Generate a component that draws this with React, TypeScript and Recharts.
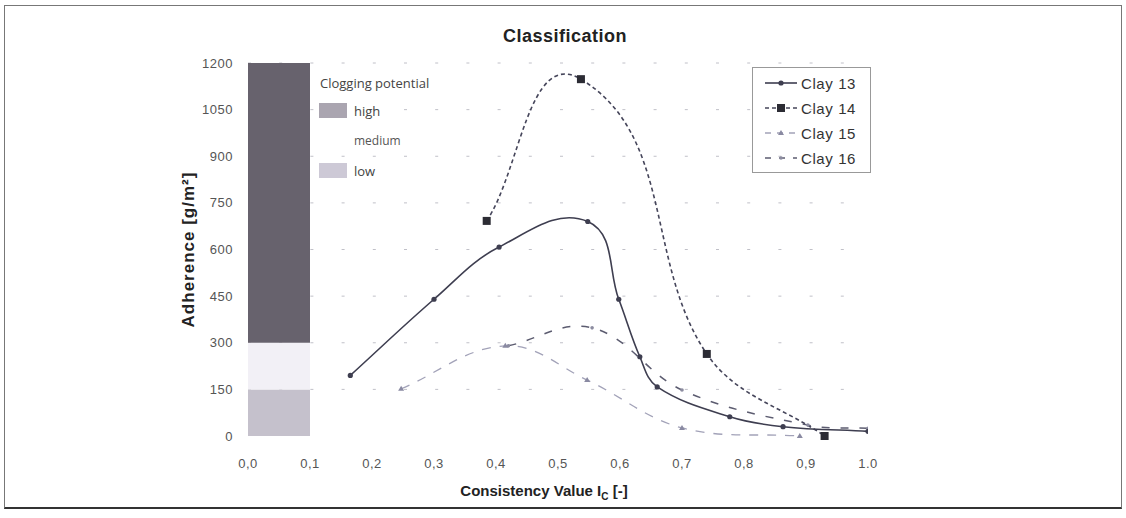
import React from 'react';
import { LineChart, Line, XAxis, YAxis, CartesianGrid, ReferenceArea } from 'recharts';

const xTicks = [0, 0.1, 0.2, 0.3, 0.4, 0.5, 0.6, 0.7, 0.8, 0.9, 1.0];
const xTickLabels = ['0,0', '0,1', '0,2', '0,3', '0,4', '0,5', '0,6', '0,7', '0,8', '0,9', '1.0'];
const yTicks = [0, 150, 300, 450, 600, 750, 900, 1050, 1200];

const clay13X = [0.165, 0.3, 0.405, 0.548, 0.598, 0.632, 0.66, 0.777, 0.863, 1.0];
const clay13Y = [195, 440, 608, 690, 440, 255, 158, 62, 30, 15];
const clay14X = [0.385, 0.537, 0.74, 0.93];
const clay14Y = [692, 1148, 264, 0];
const clay15X = [0.247, 0.415, 0.547, 0.7, 0.89];
const clay15Y = [152, 290, 180, 26, 0];
const clay16X = [0.42, 0.555, 0.7, 0.903, 1.0];
const clay16Y = [290, 348, 148, 35, 25];

const bandLevels = [0, 150, 300, 1200];
const bandColors = ['#c5c1cc', '#f2f0f6', '#67626d'];

const seriesNames = ['Clay 13', 'Clay 14', 'Clay 15', 'Clay 16'];
const clogLabels = ['high', 'medium', 'low'];

const toPoints = (xs: number[], ys: number[]) => xs.map((x, i) => ({ x, y: ys[i] }));
const clay13 = toPoints(clay13X, clay13Y);
const clay14 = toPoints(clay14X, clay14Y);
const clay15 = toPoints(clay15X, clay15Y);
const clay16 = toPoints(clay16X, clay16Y);

// Chord-length aware smooth curve (similar to spreadsheet "smoothed line")
function makeSmooth(s: number) {
  return function (context: any) {
    let pts: [number, number][] = [];
    return {
      areaStart() {},
      areaEnd() {},
      lineStart() { pts = []; },
      point(x: number, y: number) { pts.push([+x, +y]); },
      lineEnd() {
        const n = pts.length;
        if (!n) return;
        context.moveTo(pts[0][0], pts[0][1]);
        if (n === 1) return;
        if (n === 2) { context.lineTo(pts[1][0], pts[1][1]); return; }
        const tan = pts.map((_, i) => {
          const a = pts[Math.max(i - 1, 0)];
          const b = pts[Math.min(i + 1, n - 1)];
          const dx = b[0] - a[0], dy = b[1] - a[1];
          const L = Math.hypot(dx, dy) || 1;
          return [dx / L, dy / L];
        });
        for (let i = 0; i < n - 1; i++) {
          const p = pts[i], q = pts[i + 1];
          const d = Math.hypot(q[0] - p[0], q[1] - p[1]);
          context.bezierCurveTo(
            p[0] + tan[i][0] * d * s, p[1] + tan[i][1] * d * s,
            q[0] - tan[i + 1][0] * d * s, q[1] - tan[i + 1][1] * d * s,
            q[0], q[1]
          );
        }
      },
    };
  };
}

const smooth = makeSmooth(0.36);

const c13 = '#3e3e50';
const c14 = '#45455a';
const c15 = '#a2a2b8';
const c16 = '#5c5c70';

const dot13 = (p: any) => <circle key={p.index} cx={p.cx} cy={p.cy} r={2.6} fill={c13} />;
const dot14 = (p: any) => <rect key={p.index} x={p.cx - 4} y={p.cy - 4} width={8} height={8} fill="#2c2c34" />;
const dot15 = (p: any) => (
  <path key={p.index} d={`M${p.cx - 3},${p.cy + 2} L${p.cx + 3},${p.cy + 2} L${p.cx},${p.cy - 3} Z`} fill="#8a8aa2" />
);
const dot16 = (p: any) => <circle key={p.index} cx={p.cx} cy={p.cy} r={1.8} fill="#8c8ca0" />;

const XTick = (props: any) => {
  const { x, y, payload } = props;
  const i = xTicks.indexOf(payload.value);
  return (
    <text x={x} y={y} dy={14} textAnchor="middle" fill="#555" fontSize={13} fontFamily="Liberation Sans, Arial, sans-serif" letterSpacing={0.5}>
      {i >= 0 ? xTickLabels[i] : payload.value}
    </text>
  );
};

const XTitle = (props: any) => {
  const vb = props.viewBox || {};
  const cx = vb.x + vb.width / 2 - 14;
  const cy = vb.y + 60;
  return (
    <text x={cx} y={cy} textAnchor="middle" fill="#222" fontSize={15} fontWeight="bold" fontFamily="Liberation Sans, Arial, sans-serif">
      Consistency Value I<tspan fontSize={10} dy={4}>C</tspan><tspan dy={-4}> [-]</tspan>
    </text>
  );
};

const legendStyles = [
  { color: c13, dash: undefined as string | undefined, w: 1.6, marker: 'circle' },
  { color: c14, dash: '4 3', w: 1.6, marker: 'square' },
  { color: c15, dash: '6 6', w: 1.3, marker: 'tri' },
  { color: c16, dash: '6 8', w: 1.5, marker: 'dot' },
];

export default function App() {
  return (
    <div style={{ position: 'relative', width: 1126, height: 518, background: '#fff', fontFamily: 'Liberation Sans, Arial, sans-serif' }}>
      <style>{`body{margin:0;background:#fff;}`}</style>
      <div style={{ position: 'absolute', left: 4, top: 5, width: 1116, height: 501, border: '1px solid #777', borderBottom: '2px solid #333' }} />
      <div style={{ position: 'absolute', left: 0, top: 26, width: 1130, textAlign: 'center', fontSize: 18, fontWeight: 'bold', color: '#222', letterSpacing: 0.5 }}>
        Classification
      </div>
      <LineChart width={1126} height={518} margin={{ top: 63, right: 258, bottom: 52, left: 188 }} style={{ position: 'absolute', left: 0, top: 0 }}>
        <XAxis
          type="number"
          dataKey="x"
          domain={[0, 1]}
          ticks={xTicks}
          allowDataOverflow
          axisLine={false}
          tickLine={false}
          tick={<XTick />}
          tickMargin={12}
          height={30}
          label={<XTitle />}
        />
        <YAxis
          type="number"
          dataKey="y"
          domain={[0, 1200]}
          ticks={yTicks}
          axisLine={false}
          tickLine={false}
          tickSize={0}
          tickMargin={15}
          width={60}
          tick={{ fill: '#555', fontSize: 13, fontFamily: 'Liberation Sans, Arial, sans-serif', letterSpacing: 0.5 }}
          label={{
            value: 'Adherence [g/m²]',
            angle: -90,
            position: 'insideLeft',
            offset: 0,
            style: { fill: '#222', fontSize: 17, fontWeight: 'bold', textAnchor: 'middle', letterSpacing: 1 },
          }}
        />
        {bandColors.map((col, i) => (
          <ReferenceArea key={i} x1={0} x2={0.1} y1={bandLevels[i]} y2={bandLevels[i + 1]} fill={col} fillOpacity={1} stroke="none" ifOverflow="visible" />
        ))}
        <CartesianGrid vertical={false} stroke="#c0c0c8" strokeDasharray="3 28.2" horizontalValues={yTicks.slice(1)} />
        <Line data={clay16} dataKey="y" type={smooth as any} stroke={c16} strokeWidth={1.5} strokeDasharray="8 11" dot={dot16} isAnimationActive={false} />
        <Line data={clay15} dataKey="y" type={smooth as any} stroke={c15} strokeWidth={1.3} strokeDasharray="9 9" dot={dot15} isAnimationActive={false} />
        <Line data={clay14} dataKey="y" type={smooth as any} stroke={c14} strokeWidth={1.6} strokeDasharray="4 3" dot={dot14} isAnimationActive={false} />
        <Line data={clay13} dataKey="y" type={smooth as any} stroke={c13} strokeWidth={1.6} dot={dot13} isAnimationActive={false} />
      </LineChart>

      {/* Clogging potential legend */}
      <div style={{ position: 'absolute', left: 320, top: 74, fontFamily: 'Open Sans, sans-serif', fontSize: 13, color: '#444' }}>Clogging potential</div>
      <div style={{ position: 'absolute', left: 319, top: 103, width: 28, height: 15, background: '#aaa5b0' }} />
      <div style={{ position: 'absolute', left: 354, top: 102, fontFamily: 'Open Sans, sans-serif', fontSize: 13, color: '#444' }}>{clogLabels[0]}</div>
      <div style={{ position: 'absolute', left: 354, top: 132, fontFamily: 'Open Sans, sans-serif', fontSize: 12, color: '#555' }}>{clogLabels[1]}</div>
      <div style={{ position: 'absolute', left: 319, top: 163, width: 28, height: 15, background: '#cdc9d6' }} />
      <div style={{ position: 'absolute', left: 354, top: 162, fontFamily: 'Open Sans, sans-serif', fontSize: 13, color: '#444' }}>{clogLabels[2]}</div>

      {/* Series legend */}
      <div style={{ position: 'absolute', left: 752, top: 67, width: 117, height: 104, border: '1px solid #999' }}>
        {seriesNames.map((name, i) => {
          const s = legendStyles[i];
          return (
            <div key={name} style={{ position: 'absolute', left: 12, top: 5 + i * 25, height: 20, display: 'flex', alignItems: 'center' }}>
              <svg width={32} height={20} style={{ display: 'block' }}>
                <line x1={0} y1={10} x2={32} y2={10} stroke={s.color} strokeWidth={s.w} strokeDasharray={s.dash} />
                {s.marker === 'circle' && <circle cx={16} cy={10} r={2.6} fill={c13} />}
                {s.marker === 'square' && <rect x={12} y={6} width={8} height={8} fill="#2c2c34" />}
                {s.marker === 'tri' && <path d="M13,12 L19,12 L16,7 Z" fill="#8a8aa2" />}
                {s.marker === 'dot' && <circle cx={16} cy={10} r={1.8} fill="#8c8ca0" />}
              </svg>
              <span style={{ marginLeft: 4, fontSize: 15, color: '#333', letterSpacing: 0.6 }}>{name}</span>
            </div>
          );
        })}
      </div>
    </div>
  );
}
